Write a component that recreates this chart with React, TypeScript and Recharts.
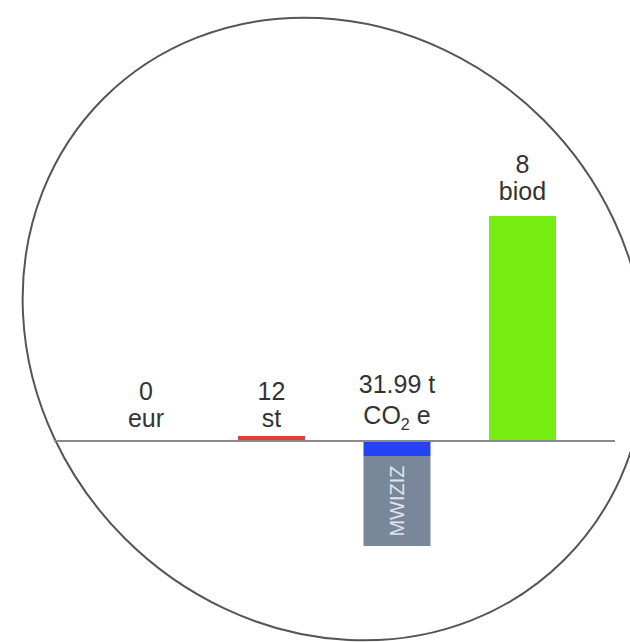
import { BarChart, Bar, XAxis, YAxis, ReferenceLine, Cell, LabelList } from "recharts";

// bar scores (chart units)
const categories = ["eur", "st", "co2", "biod"];
const valueLabels = ["0", "12", "31.99 t", "8"];
const unitLabels = ["eur", "st", "CO2 e", "biod"];
const scores = [0, 2.2, 0, 100];
const co2Head = [0, 0, -6.7, 0];
const co2Body = [0, 0, -40, 0];
const scoreColors = ["transparent", "#e2403a", "transparent", "#76ee12"];

const data = categories.map((c, i) => ({
  name: c,
  score: scores[i],
  head: co2Head[i],
  body: co2Body[i],
}));

const FONT = '"Liberation Sans", Arial, Helvetica, sans-serif';
const ZERO_Y = 441;

function TopLabel(props: any) {
  const { x, y, width, height, index } = props;
  const top = Math.min(y, y + height);
  const small = Math.abs(height) < 20;
  const unitY = small ? ZERO_Y - 14 : top - 16;
  const isCo2 = unitLabels[index] === "CO2 e";
  const valueY = unitY - (isCo2 ? 34 : 27);
  const cx = x + width / 2;
  return (
    <g fontFamily={FONT} fontSize={25} fill="#333" textAnchor="middle">
      <text x={cx} y={valueY}>{valueLabels[index]}</text>
      {isCo2 ? (
        <text x={cx} y={unitY - 3}>
          <tspan>CO</tspan>
          <tspan dy={6} fontSize={16}>2</tspan>
          <tspan dy={-6}> e</tspan>
        </text>
      ) : (
        <text x={cx} y={unitY}>{unitLabels[index]}</text>
      )}
    </g>
  );
}

function BodyLabel(props: any) {
  const { x, y, width, height } = props;
  if (!height) return null;
  const cx = x + width / 2;
  const cy = y + height / 2;
  return (
    <text
      x={cx}
      y={cy}
      transform={`rotate(-90 ${cx} ${cy})`}
      textAnchor="middle"
      dominantBaseline="central"
      fontFamily={FONT}
      fontSize={20}
      fill="#dfe4ea"
    >
      MWIZIZ
    </text>
  );
}

export default function App() {
  return (
    <div style={{ position: "absolute", left: 0, top: 0, width: 630, height: 642 }}>
      <svg width={630} height={642} style={{ position: "absolute", left: 0, top: 0 }}>
        <ellipse
          cx={334}
          cy={329}
          rx={326}
          ry={296}
          transform="rotate(45 334 329)"
          fill="none"
          stroke="#555"
          strokeWidth={2}
        />
      </svg>
      <div style={{ position: "absolute", left: 0, top: 0 }}>
        <BarChart
          width={630}
          height={642}
          data={data}
          margin={{ top: 216, right: 15, bottom: 88.5, left: 54 }}
          stackOffset="sign"
        >
          <XAxis dataKey="name" hide padding={{ left: 29.5, right: 29.5 }} />
          <YAxis hide domain={[-50, 100]} allowDataOverflow />
          <ReferenceLine y={0} stroke="#8a8a8a" strokeWidth={2} />
          <Bar dataKey="score" stackId="a" barSize={67} minPointSize={1} isAnimationActive={false}>
            {data.map((d, i) => (
              <Cell key={d.name} fill={scoreColors[i]} />
            ))}
            <LabelList content={<TopLabel />} />
          </Bar>
          <Bar dataKey="head" stackId="a" barSize={67} fill="#2443f2" isAnimationActive={false} />
          <Bar dataKey="body" stackId="a" barSize={67} fill="#78879a" isAnimationActive={false}>
            <LabelList content={<BodyLabel />} />
          </Bar>
        </BarChart>
      </div>
    </div>
  );
}
